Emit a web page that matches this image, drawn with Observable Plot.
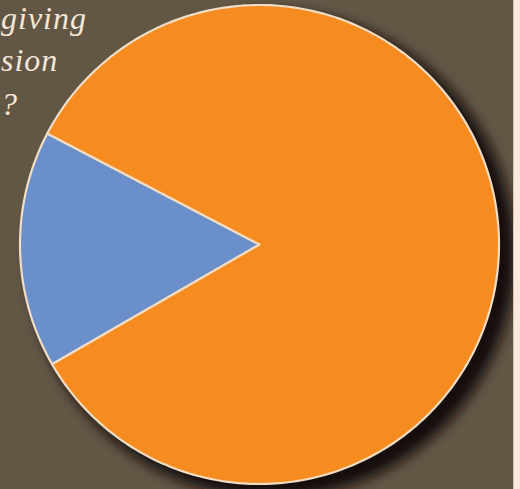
<!DOCTYPE html>
<html>
<head>
<meta charset="utf-8">
<script src="https://cdn.jsdelivr.net/npm/d3@7"></script>
<script src="https://cdn.jsdelivr.net/npm/@observablehq/plot@0.6"></script>
<style>
  html, body { margin: 0; padding: 0; background: #625645; overflow: hidden; }
  #wrap { position: relative; width: 520px; height: 489px; background: #625645; overflow: hidden; }
  #strip { position: absolute; left: 513px; top: 0; width: 7px; height: 489px; background: #fbeadc; border-left: 1px solid #cfc6bb; }
  #chart { position: absolute; left: 0; top: 0; }
  .title { position: absolute; color: #f6e6d6; font-family: "Liberation Serif", serif; font-style: italic; font-size: 32px; line-height: 1; white-space: nowrap; letter-spacing: 1px; }
</style>
</head>
<body>
<div id="wrap">
  <div id="chart"></div>
  <div id="strip"></div>
  <div class="title" style="left:1px; top:2px;">giving</div>
  <div class="title" style="left:1px; top:44px;">sion</div>
  <div class="title" style="left:1px; top:88px;">?</div>
</div>
<script>
// Data
const slices = ["Slice A", "Slice B"];
const shares = [16, 84];
const sliceColors = ["#6b8fcb", "#f68b1f"];
const firstSliceAngle = 240; // degrees clockwise from 12 o'clock

// Wedge outlines built from the data via d3.pie
const pie = d3.pie().sort(null)
  .startAngle(firstSliceAngle * Math.PI / 180)
  .endAngle((firstSliceAngle + 360) * Math.PI / 180);
const arcs = pie(shares);
const wedgePts = [];
arcs.forEach((a, i) => {
  wedgePts.push({slice: slices[i], x: 0, y: 0});
  const steps = Math.max(2, Math.ceil((a.endAngle - a.startAngle) / (Math.PI / 180)));
  for (let k = 0; k <= steps; k++) {
    const t = a.startAngle + (a.endAngle - a.startAngle) * k / steps;
    wedgePts.push({slice: slices[i], x: Math.sin(t), y: Math.cos(t)});
  }
  wedgePts.push({slice: slices[i], x: 0, y: 0});
});
const ringPts = d3.range(0, 361).map(d => ({x: Math.sin(d * Math.PI / 180), y: Math.cos(d * Math.PI / 180)}));

const cx = 259, cy = 244, r = 239.5, W = 513, H = 489;
const chart = Plot.plot({
  width: W,
  height: H,
  margin: 0,
  x: {domain: [-cx / r, (W - cx) / r], axis: null},
  y: {domain: [-(H - cy) / r, cy / r], axis: null},
  color: {domain: slices, range: sliceColors},
  style: {background: "transparent", overflow: "visible"},
  marks: [
    Plot.line(ringPts, {x: "x", y: "y", fill: "#15110c", stroke: "#15110c", strokeWidth: 8, dx: 12, dy: 10}),
    Plot.line(wedgePts, {x: "x", y: "y", z: "slice", fill: "slice", stroke: "#f1dcc4", strokeWidth: 2.2, strokeLinejoin: "round"})
  ]
});
document.getElementById("chart").appendChild(chart);
const svg = d3.select(chart);
svg.insert("defs", ":first-child")
  .append("filter").attr("id", "pieShadow")
  .attr("x", "-20%").attr("y", "-20%").attr("width", "140%").attr("height", "140%")
  .append("feGaussianBlur").attr("stdDeviation", 6);
svg.select('g[aria-label="line"]').attr("filter", "url(#pieShadow)");
</script>
</body>
</html>
